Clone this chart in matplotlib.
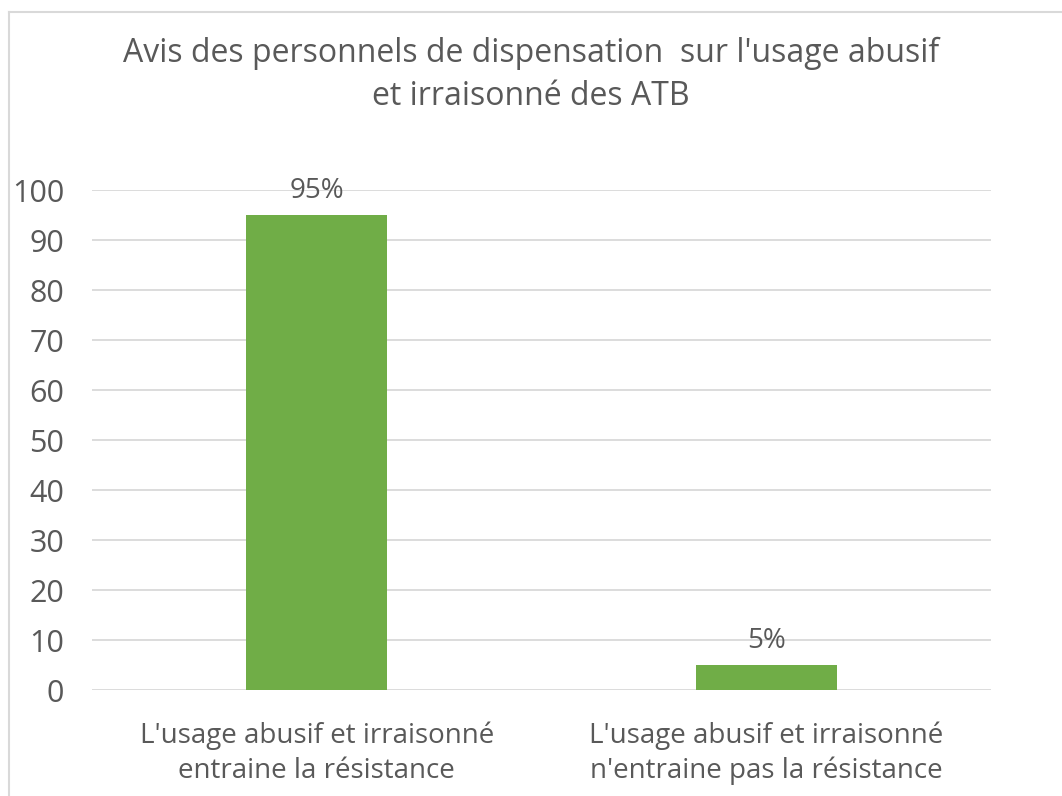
import matplotlib
matplotlib.use("Agg")
import matplotlib.pyplot as plt
from matplotlib.lines import Line2D

categories = ["L'usage abusif et irraisonné\nentraine la résistance",
              "L'usage abusif et irraisonné\nn'entraine pas la résistance"]
values = [95, 5]
value_labels = ["95%", "5%"]
y_ticks = [0, 10, 20, 30, 40, 50, 60, 70, 80, 90, 100]
title = "Avis des personnels de dispensation  sur l'usage abusif\net irraisonné des ATB"

plt.rcParams['font.family'] = ['Open Sans', 'DejaVu Sans']
text_color = "#595959"
bar_color = "#70AD47"
grid_color = "#D9D9D9"

fig = plt.figure(figsize=(10.62, 7.96), dpi=100)
ax = fig.add_axes([92 / 1062, 1 - 690 / 796, (991 - 92) / 1062, 500 / 796])

x = range(len(categories))
bars = ax.bar(x, values, width=0.314, color=bar_color, zorder=3)
for b, lab in zip(bars, value_labels):
    ax.annotate(lab, (b.get_x() + b.get_width() / 2, b.get_height()),
                xytext=(0, 7), textcoords="offset points",
                ha="center", va="bottom", fontsize=20, color=text_color)

ax.set_xlim(-0.5, 1.5)
ax.set_ylim(0, 100)
ax.set_yticks(y_ticks)
ax.set_xticks(list(x))
ax.set_xticklabels(categories, fontsize=20, color=text_color, linespacing=1.3)
ax.tick_params(axis="y", labelsize=22, labelcolor=text_color, length=0, pad=20)
ax.tick_params(axis="x", length=0, pad=23)
ax.grid(axis="y", color=grid_color, linewidth=1.3, zorder=0)
for s in ax.spines.values():
    s.set_visible(False)

fig.text(0.5, 1 - 75 / 796, title, ha="center", va="center",
         fontsize=23, color=text_color, linespacing=1.42)

# chart frame (top and left edges)
fig.add_artist(Line2D([9 / 1062, 1], [1 - 12 / 796, 1 - 12 / 796],
                      transform=fig.transFigure, color=grid_color, linewidth=1.5))
fig.add_artist(Line2D([9 / 1062, 9 / 1062], [0, 1 - 12 / 796],
                      transform=fig.transFigure, color=grid_color, linewidth=1.5))

fig.savefig("out.png", dpi=100)
